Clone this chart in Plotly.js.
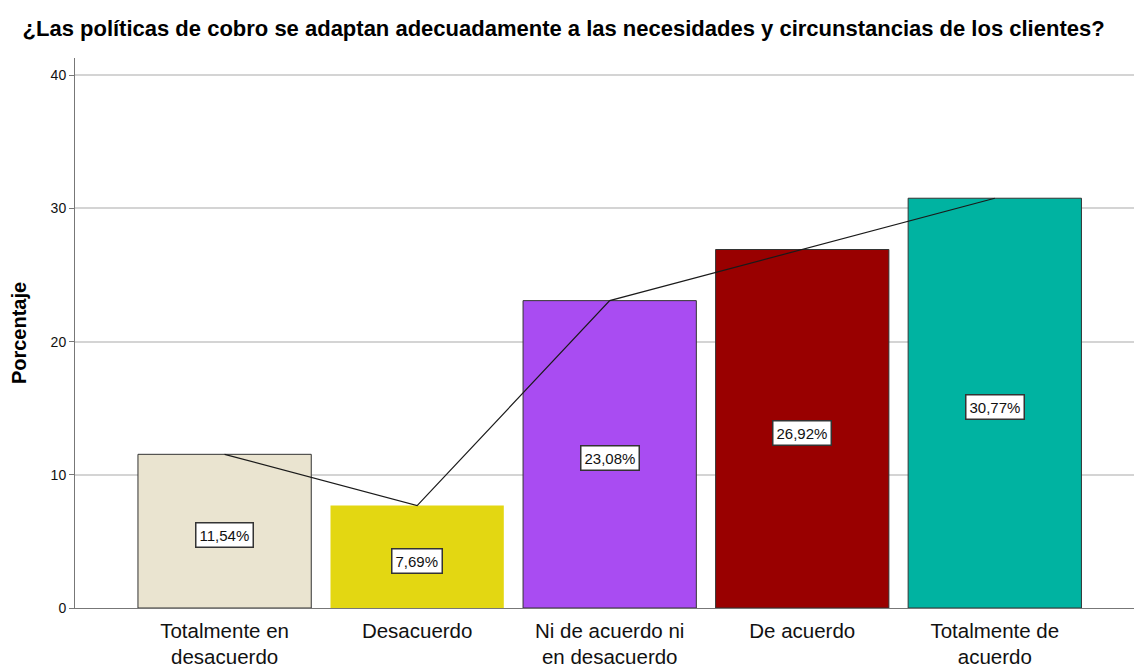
<!DOCTYPE html>
<html>
<head>
<meta charset="utf-8">
<script src="https://cdn.plot.ly/plotly-3.0.1.min.js"></script>
<style>html,body{margin:0;padding:0;background:#fff;}#chart{width:1134px;height:667px;}</style>
</head>
<body>
<div id="chart"></div>
<script>
const categories = ["Totalmente en<br>desacuerdo", "Desacuerdo", "Ni de acuerdo ni<br>en desacuerdo", "De acuerdo", "Totalmente de<br>acuerdo"];
const percentages = [11.54, 7.69, 23.08, 26.92, 30.77];
const valueLabels = ["11,54%", "7,69%", "23,08%", "26,92%", "30,77%"];
const barColors = ["#EAE4D0", "#E3D712", "#A94CF2", "#990000", "#00B3A1"];
const yTicks = [0, 10, 20, 30, 40];

const xIdx = categories.map((c, i) => i);
const FONT = 'Liberation Sans, Arial, sans-serif';

const bars = {
  type: 'bar',
  x: xIdx,
  y: percentages,
  width: 0.9,
  marker: {
    color: barColors,
    line: {color: '#333333', width: [1, 0, 1, 1, 1]}
  },
  hoverinfo: 'none'
};
const line = {
  type: 'scatter',
  mode: 'lines',
  x: xIdx,
  y: percentages,
  line: {color: '#1a1a1a', width: 1.2},
  hoverinfo: 'none'
};

const annotations = percentages.map((v, i) => ({
  x: i, y: v / 2, xref: 'x', yref: 'y', yshift: -4,
  text: valueLabels[i], showarrow: false,
  bgcolor: '#ffffff', bordercolor: '#333333', borderwidth: 1.5, borderpad: 3,
  font: {family: FONT, size: 15, color: '#111'}
}));

const layout = {
  width: 1134, height: 667,
  margin: {l: 75, r: 0, t: 58, b: 59},
  paper_bgcolor: '#ffffff', plot_bgcolor: '#ffffff',
  showlegend: false,
  title: {
    text: '<b>¿Las políticas de cobro se adaptan adecuadamente a las necesidades y circunstancias de los clientes?</b>',
    x: 0.497, xref: 'container', y: 0.958, yref: 'container', yanchor: 'middle',
    font: {family: FONT, size: 22, color: '#000'}
  },
  xaxis: {
    range: [-0.777, 4.723],
    tickmode: 'array', tickvals: xIdx, ticktext: categories,
    ticks: '', showgrid: false, zeroline: false,
    showline: true, linecolor: '#777', linewidth: 1,
    ticklabelstandoff: 4,
    tickfont: {family: FONT, size: 20.5, color: '#111'},
    fixedrange: true
  },
  yaxis: {
    range: [0, 41.3],
    tickmode: 'array', tickvals: yTicks, ticktext: yTicks.map(String),
    ticks: 'outside', ticklen: 5, tickcolor: '#777',
    showgrid: true, gridcolor: '#d4d4d4', gridwidth: 2,
    zeroline: false, showline: true, linecolor: '#777', linewidth: 1,
    tickfont: {family: FONT, size: 14, color: '#111'},
    title: {text: '<b>Porcentaje</b>', standoff: 18,
      font: {family: FONT, size: 20, color: '#000'}},
    fixedrange: true
  },
  annotations: annotations
};

Plotly.newPlot('chart', [bars, line], layout, {displayModeBar: false, staticPlot: true});
</script>
</body>
</html>
